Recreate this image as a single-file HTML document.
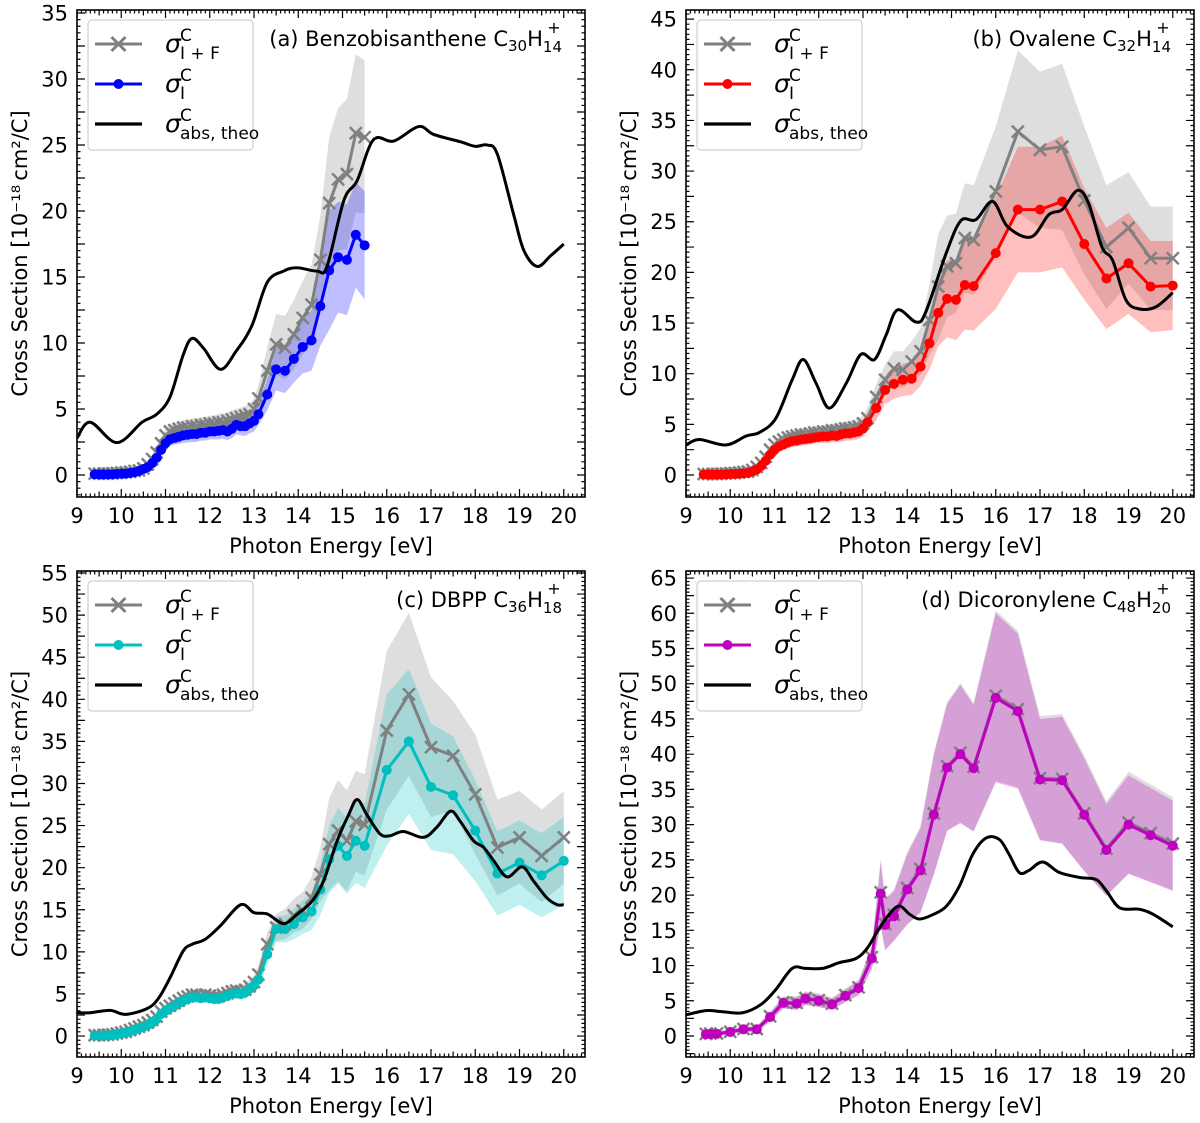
<!DOCTYPE html>
<html><head><meta charset="utf-8"><style>
html,body{margin:0;padding:0;background:#fff;}
svg{display:block;font-family:"DejaVu Sans","Liberation Sans",sans-serif;}
</style></head><body>
<svg id="fig" width="1200" height="1123" viewBox="0 0 1200 1123" xmlns="http://www.w3.org/2000/svg"></svg>
<script>
// ---------- shared data ----------
const DENSE_X = [9.4,9.5,9.6,9.7,9.8,9.9,10.0,10.1,10.2,10.3,10.4,10.5,10.6,10.7,10.8,10.9,11.0,11.1,11.2,11.3,11.4,11.5,11.6,11.7,11.8,11.9,12.0,12.1,12.2,12.3,12.4,12.5,12.6,12.7,12.8,12.9,13.0];
const DENSE_ERR = [0.1,0.1,0.1,0.1,0.1,0.1,0.1,0.1,0.15,0.15,0.2,0.2,0.25,0.3,0.35,0.4,0.45,0.5,0.5,0.55,0.55,0.6,0.6,0.6,0.6,0.6,0.6,0.6,0.65,0.65,0.65,0.7,0.7,0.7,0.75,0.75,0.8];
const SPARSE_X_A = [13.1,13.3,13.5,13.7,13.9,14.1,14.3,14.5,14.7,14.9,15.1,15.3,15.5];
const SPARSE_X_BC = [13.1,13.3,13.5,13.7,13.9,14.1,14.3,14.5,14.7,14.9,15.1,15.3,15.5,16,16.5,17,17.5,18,18.5,19,19.5,20];
const X_TICKS = [9,10,11,12,13,14,15,16,17,18,19,20];

// panel a
const aIDense = [0.05,0.05,0.05,0.05,0.05,0.08,0.1,0.1,0.15,0.2,0.3,0.45,0.6,0.9,1.3,1.9,2.4,2.7,2.8,2.9,3.0,3.05,3.1,3.1,3.2,3.2,3.3,3.3,3.35,3.4,3.3,3.5,3.8,3.7,3.7,3.9,4.1];
const aISparse = [4.6,6.1,8.0,7.9,8.8,9.7,10.2,12.8,15.5,16.5,16.3,18.2,17.4];
const aIErrSparse = [0.8,1.2,1.6,1.7,1.8,2.0,2.3,3.0,4.5,4.2,4.2,4.0,4.1];
const aFDense = [0.1,0.1,0.1,0.1,0.12,0.15,0.18,0.2,0.25,0.3,0.35,0.5,0.8,1.2,1.7,2.4,3.0,3.3,3.4,3.5,3.6,3.6,3.7,3.7,3.8,3.8,3.9,3.9,4.0,4.0,4.1,4.2,4.3,4.4,4.5,4.6,5.0];
const aFSparse = [5.8,7.9,9.9,9.65,10.65,11.9,12.9,16.3,20.6,22.4,22.8,25.9,25.6];
const aFErrSparse = [1.0,1.8,2.3,2.4,2.6,2.8,3.0,3.4,5.0,5.4,5.7,6.0,5.8];
const aTheoX = [9,9.3,9.9,10.47,10.8,11.1,11.4,11.6,11.86,12.24,12.6,12.95,13.3,13.67,13.97,14.42,14.65,15.03,15.33,15.7,16.16,16.72,17.06,17.66,18.0,18.27,18.5,18.87,19.1,19.4,19.7,20.0];
const aTheoY = [2.8,4.0,2.45,4.0,4.6,5.9,9.1,10.35,9.6,8.0,9.4,11.3,14.6,15.45,15.7,15.45,15.8,20.8,22.3,25.4,25.3,26.4,25.8,25.25,24.9,25.0,24.3,19.7,17.0,15.8,16.6,17.5];
const aYTicks = [0,5,10,15,20,25,30,35];

// panel b
const bIDense = [0.05,0.05,0.05,0.05,0.05,0.08,0.1,0.1,0.12,0.15,0.2,0.35,0.55,0.9,1.4,2.0,2.5,2.8,3.0,3.2,3.35,3.4,3.5,3.55,3.6,3.7,3.75,3.8,3.8,3.9,3.85,4.0,4.1,4.1,4.2,4.3,4.6];
const bISparse = [5.2,6.6,8.4,9.0,9.4,9.5,10.7,13.0,16.0,17.4,17.3,18.75,18.65,21.9,26.2,26.2,27.0,22.8,19.4,20.9,18.6,18.7];
const bIErrSparse = [0.9,1.2,1.4,1.5,1.6,1.6,1.9,2.6,3.3,3.8,4.0,4.4,4.4,5.5,6.2,6.2,6.5,5.5,5.0,5.0,4.5,4.4];
const bFDense = [0.1,0.1,0.1,0.1,0.12,0.15,0.18,0.2,0.25,0.3,0.35,0.5,0.8,1.2,1.8,2.5,3.0,3.3,3.5,3.7,3.8,3.9,4.0,4.0,4.1,4.2,4.2,4.3,4.3,4.4,4.4,4.5,4.6,4.6,4.7,4.8,5.1];
const bFSparse = [5.6,7.7,9.4,10.5,10.4,11.2,12.2,15.3,18.6,20.6,20.9,23.4,23.2,28.0,33.9,32.1,32.4,27.1,22.5,24.4,21.4,21.4];
const bFErrSparse = [1.0,1.3,1.5,1.7,1.8,2.0,2.3,3.5,5.2,5.0,4.9,5.4,5.4,6.4,8.0,7.7,8.2,7.3,6.1,5.5,5.1,5.1];
const bTheoX = [9,9.3,9.9,10.36,10.66,11.03,11.4,11.65,11.94,12.24,12.62,12.95,13.26,13.52,13.78,14.2,14.42,14.88,15.21,15.55,15.93,16.27,16.8,17.2,17.5,17.85,18.1,18.4,18.64,18.94,19.24,19.62,20.0];
const bTheoY = [2.96,3.5,2.96,3.85,4.2,5.6,9.4,11.4,9.05,6.6,9.05,11.9,11.4,13.8,16.3,15.1,16.1,21.9,25.1,25.2,27.0,24.5,23.5,25.7,26.2,28.1,26.8,22.5,21.2,17.3,16.4,16.6,18.0];
const bYTicks = [0,5,10,15,20,25,30,35,40,45];

// panel c
const cIDense = [0.05,0.05,0.05,0.1,0.1,0.2,0.3,0.4,0.55,0.7,0.9,1.1,1.3,1.6,2.0,2.6,3.0,3.3,3.6,3.9,4.2,4.4,4.6,4.6,4.5,4.6,4.5,4.4,4.4,4.6,4.8,5.0,5.1,5.0,5.2,5.6,6.0];
const cISparse = [6.7,9.7,12.7,12.7,13.3,14.1,14.8,17.4,21.0,22.6,21.4,23.2,22.6,31.6,35.0,29.6,28.6,24.4,19.3,20.6,19.1,20.8];
const cIErrSparse = [1.0,1.3,1.5,1.6,1.8,2.0,2.2,3.0,4.0,4.5,4.5,5.0,5.0,9.0,8.6,7.5,7.0,6.0,5.0,5.0,5.0,5.2];
const cFDense = [0.1,0.1,0.1,0.15,0.2,0.3,0.4,0.5,0.7,0.9,1.1,1.3,1.6,1.9,2.3,2.9,3.3,3.6,3.9,4.2,4.5,4.7,4.9,4.9,4.8,4.9,4.8,4.7,4.7,4.9,5.1,5.3,5.4,5.3,5.5,5.9,6.4];
const cFSparse = [7.3,10.9,12.9,13.3,14.3,14.9,16.4,19.2,22.8,24.4,23.2,25.5,25.1,36.3,40.6,34.3,33.3,28.7,22.4,23.6,21.4,23.6];
const cFErrSparse = [1.1,1.4,1.6,1.8,2.0,2.2,2.5,3.2,5.5,6.0,6.0,6.0,6.0,9.4,9.7,8.3,6.5,7.1,5.7,5.5,5.5,5.5];
const cTheoX = [9,9.3,9.75,10.1,10.6,10.85,11.1,11.4,11.6,11.9,12.24,12.7,13.0,13.3,13.67,13.97,14.31,14.57,14.88,15.14,15.33,15.55,15.85,16.08,16.38,16.83,17.13,17.44,17.66,17.96,18.19,18.42,18.72,19.06,19.32,19.62,19.85,20.0];
const cTheoY = [2.77,2.77,3.05,2.57,3.3,4.55,6.9,10.1,10.9,11.5,13.1,15.6,14.65,14.5,13.35,14.45,16.0,18.4,23.2,26.3,28.1,26.3,24.0,23.8,24.3,23.6,24.8,26.7,25.5,23.2,22.4,20.8,18.9,20.1,18.4,16.4,15.6,15.6];
const cYTicks = [0,5,10,15,20,25,30,35,40,45,50,55];

// panel d
const dX = [9.45,9.55,9.7,10,10.3,10.6,10.9,11.2,11.5,11.7,12,12.3,12.6,12.9,13.2,13.4,13.5,13.7,14,14.3,14.6,14.9,15.2,15.5,16,16.5,17,17.5,18,18.5,19,19.5,20];
const dI = [0.24,0.3,0.3,0.57,0.95,0.95,2.7,4.7,4.6,5.3,5.0,4.5,5.7,6.8,11.0,20.2,15.75,17.0,20.8,23.5,31.4,38.1,40.0,38.0,48.0,46.1,36.4,36.3,31.4,26.4,30.0,28.5,27.0];
const dIErr = [0.3,0.3,0.3,0.3,0.35,0.4,0.6,0.8,0.9,0.9,0.9,0.8,0.9,1.0,1.5,4.6,3.6,3.5,5.0,6.0,8.5,9.0,9.8,9.0,12.0,11.0,8.6,9.0,8.0,6.5,7.0,6.7,6.4];
const dF = [0.3,0.35,0.35,0.6,1.0,1.0,2.8,4.8,4.7,5.4,5.1,4.6,5.8,6.9,11.2,20.4,15.9,17.2,21.0,23.7,31.6,38.3,40.2,38.2,48.3,46.4,36.6,36.5,31.6,26.6,30.3,28.8,27.3];
const dFErr = [0.35,0.35,0.35,0.35,0.4,0.45,0.65,0.85,0.95,0.95,0.95,0.85,0.95,1.1,1.6,4.7,3.7,3.6,5.1,6.1,8.6,9.1,9.9,9.1,12.1,11.1,8.8,9.2,8.2,6.7,7.2,6.9,6.6];
const dTheoX = [9,9.45,9.83,10.28,10.7,11.03,11.4,11.7,12.09,12.46,12.84,13.1,13.4,13.78,14.05,14.27,14.57,14.88,15.18,15.48,15.78,16.08,16.3,16.53,16.75,17.06,17.44,17.9,18.27,18.5,18.8,19.24,19.55,20.0];
const dTheoY = [3.0,3.6,3.45,3.3,4.5,6.6,9.6,9.6,9.6,10.4,11.0,12.5,15.6,18.4,17.3,16.6,17.2,18.4,21.3,25.8,28.1,27.9,25.8,23.2,23.5,24.7,23.2,22.5,22.2,20.6,18.2,18.0,17.3,15.5];
const dYTicks = [0,5,10,15,20,25,30,35,40,45,50,55,60,65];

// ---------- drawing ----------
const NS = 'http://www.w3.org/2000/svg';
const fig = document.getElementById('fig');
function mk(tag, attrs, parent){
  const e = document.createElementNS(NS, tag);
  for (const k in attrs) e.setAttribute(k, attrs[k]);
  (parent || fig).appendChild(e);
  return e;
}
function smoothPath(pts){
  let d = 'M' + pts[0][0].toFixed(2) + ',' + pts[0][1].toFixed(2);
  for (let i = 0; i < pts.length - 1; i++){
    const p0 = pts[Math.max(0,i-1)], p1 = pts[i], p2 = pts[i+1], p3 = pts[Math.min(pts.length-1,i+2)];
    const c1 = [p1[0] + (p2[0]-p0[0])/6, p1[1] + (p2[1]-p0[1])/6];
    const c2 = [p2[0] - (p3[0]-p1[0])/6, p2[1] - (p3[1]-p1[1])/6];
    d += ' C' + c1[0].toFixed(2)+','+c1[1].toFixed(2)+' '+c2[0].toFixed(2)+','+c2[1].toFixed(2)+' '+p2[0].toFixed(2)+','+p2[1].toFixed(2);
  }
  return d;
}

function drawPanel(p){
  const X0 = 9, X1 = 20.48;
  const sx = x => p.L + (x - X0) / (X1 - X0) * (p.R - p.L);
  const sy = y => p.B - (y - p.ymin) / (p.ymax - p.ymin) * (p.B - p.T);
  const g = mk('g', {});
  
  
  const clipId = 'clip-' + p.id;
  const cp = mk('clipPath', {id: clipId}, g);
  mk('rect', {x: p.L, y: p.T, width: p.R - p.L, height: p.B - p.T}, cp);
  const plot = mk('g', {'clip-path': 'url(#' + clipId + ')'}, g);
  
  

  function band(xs, ys, errs, fill, name){
    let pts = [];
    for (let i = 0; i < xs.length; i++) pts.push(sx(xs[i]).toFixed(2) + ',' + sy(ys[i] + errs[i]).toFixed(2));
    for (let i = xs.length - 1; i >= 0; i--) pts.push(sx(xs[i]).toFixed(2) + ',' + sy(ys[i] - errs[i]).toFixed(2));
    const b = mk('polygon', {points: pts.join(' '), fill: fill, stroke: 'none'}, plot);
    
    
  }
  band(p.fx, p.fy, p.fe, 'rgba(200,200,200,0.6)', 'uncertainty-band-ionization-fragmentation');
  band(p.ix, p.iy, p.ie, p.bandColor, 'uncertainty-band-ionization');

  const fl = mk('polyline', {points: p.fx.map((x,i) => sx(x).toFixed(2)+','+sy(p.fy[i]).toFixed(2)).join(' '), fill: 'none', stroke: '#808080', 'stroke-width': 3, 'stroke-linejoin': 'round'}, plot);
  
  
  for (let i = 0; i < p.fx.length; i++){
    const cx = sx(p.fx[i]), cy = sy(p.fy[i]), s = 6;
    const m = mk('path', {d: `M${cx-s},${cy-s}L${cx+s},${cy+s}M${cx-s},${cy+s}L${cx+s},${cy-s}`, stroke: '#808080', 'stroke-width': 2.5, fill: 'none'}, plot);
    
    
  }
  const il = mk('polyline', {points: p.ix.map((x,i) => sx(x).toFixed(2)+','+sy(p.iy[i]).toFixed(2)).join(' '), fill: 'none', stroke: p.color, 'stroke-width': 3, 'stroke-linejoin': 'round'}, plot);
  
  
  for (let i = 0; i < p.ix.length; i++){
    const c = mk('circle', {cx: sx(p.ix[i]), cy: sy(p.iy[i]), r: 5, fill: p.color}, plot);
    
    
  }
  const tp = mk('path', {d: smoothPath(p.tx.map((x,i) => [sx(x), sy(p.ty[i])])), fill: 'none', stroke: '#000', 'stroke-width': 3, 'stroke-linejoin': 'round'}, plot);
  
  

  let td = '';
  for (let v = 9; v <= 20.48 + 1e-9; v += 0.1){
    const vv = Math.round(v * 10) / 10;
    const x = sx(vv), major = Math.abs(vv * 2 - Math.round(vv * 2)) < 1e-6;
    const len = Math.abs(vv - Math.round(vv)) < 1e-6 ? 8 : (major ? 5.5 : 3.5);
    td += `M${x},${p.B}v${-len}M${x},${p.T}v${len}`;
  }
  for (let v = Math.ceil(p.ymin * 2) / 2; v <= p.ymax + 1e-9; v += 0.5){
    const vv = Math.round(v * 2) / 2;
    const y = sy(vv);
    const len = Math.abs(vv / 2.5 - Math.round(vv / 2.5)) < 1e-6 ? 8 : 3.5;
    td += `M${p.L},${y}h${len}M${p.R},${y}h${-len}`;
  }
  const ticks = mk('path', {d: td, stroke: '#000', 'stroke-width': 1.2, fill: 'none'}, g);
  
  

  const frame = mk('rect', {x: p.L, y: p.T, width: p.R - p.L, height: p.B - p.T, fill: 'none', stroke: '#000', 'stroke-width': 1.6}, g);
  
  

  for (const t of X_TICKS){
    const tl = mk('text', {x: sx(t), y: p.B + 26, 'text-anchor': 'middle', 'font-size': 21, fill: '#000'}, g);
    tl.textContent = String(t);
    
    
  }
  for (const t of p.yticks){
    const tl = mk('text', {x: p.L - 9, y: sy(t) + 7.5, 'text-anchor': 'end', 'font-size': 21, fill: '#000'}, g);
    tl.textContent = String(t);
    
    
  }
  const xt = mk('text', {x: (p.L + p.R) / 2 + 77 - 77 + 0, y: p.B + 56, 'text-anchor': 'middle', 'font-size': 21, fill: '#000'}, g);
  xt.setAttribute('x', p.L + 254);
  xt.textContent = 'Photon Energy [eV]';
  
  
  const ycx = p.L - 50, ycy = (p.T + p.B) / 2;
  const yt = mk('text', {x: ycx, y: ycy, 'text-anchor': 'middle', 'font-size': 21, fill: '#000', transform: `rotate(-90 ${ycx} ${ycy})`}, g);
  yt.textContent = 'Cross Section [10\u207B\u00B9\u2078\u2009cm\u00B2/C]';
  
  

  const tt = mk('text', {x: p.R - 23, y: p.T + 36, 'text-anchor': 'end', 'font-size': 21, fill: '#000'}, g);
  
  
  tt.appendChild(document.createTextNode(p.title + ' C'));
  const s1 = mk('tspan', {'font-size': 15, dy: 5}, tt); s1.textContent = p.nC;
  const s2 = mk('tspan', {'font-size': 21, dy: -5}, tt); s2.textContent = 'H';
  const s3 = mk('tspan', {'font-size': 15, dy: 6}, tt); s3.textContent = p.nH;
  const pl = mk('text', {x: p.R - 31, y: p.T + 23, 'text-anchor': 'middle', 'font-size': 16, fill: '#000'}, g);
  pl.textContent = '+';
  
  

  const lg = mk('g', {}, g);
  
  
  const lb = mk('rect', {x: p.L + 11, y: p.T + 10, width: 165, height: 130, rx: 4, fill: 'rgba(255,255,255,0.85)', stroke: '#d0d0d0', 'stroke-width': 1.2}, lg);
  
  
  const lx0 = p.L + 18, lx1 = p.L + 65, tx = p.L + 88;
  const rows = [p.T + 34, p.T + 74, p.T + 114];
  const e1 = mk('path', {d: `M${lx0},${rows[0]}H${lx1}M${(lx0+lx1)/2-7},${rows[0]-7}l14,14M${(lx0+lx1)/2-7},${rows[0]+7}l14,-14`, stroke: '#808080', 'stroke-width': 3, fill: 'none'}, lg);
  
  
  const e2 = mk('path', {d: `M${lx0},${rows[1]}H${lx1}`, stroke: p.color, 'stroke-width': 3, fill: 'none'}, lg);
  
  
  const e2c = mk('circle', {cx: (lx0+lx1)/2, cy: rows[1], r: 5, fill: p.color}, lg);
  
  
  const e3 = mk('path', {d: `M${lx0},${rows[2]}H${lx1}`, stroke: '#000', 'stroke-width': 3.2, fill: 'none'}, lg);
  
  
  const labels = ['I + F', 'I', 'abs, theo'];
  for (let r = 0; r < 3; r++){
    const sg = mk('text', {x: tx, y: rows[r] + 8, 'font-size': 25, 'font-style': 'italic', fill: '#000'}, lg);
    sg.textContent = '\u03C3';
    
    
    const sc = mk('text', {x: tx + 15, y: rows[r] - 3, 'font-size': 17, fill: '#000'}, lg);
    sc.textContent = 'C';
    
    
    const sb = mk('text', {x: tx + 15, y: rows[r] + 15, 'font-size': 17, fill: '#000'}, lg);
    sb.textContent = labels[r];
    
    
  }
}

const panels = [
  {id:'a', L:77, R:585, T:10, B:497, ymin:-1.667, ymax:35.23, yticks:aYTicks, color:'#0000ff', bandColor:'rgba(0,0,255,0.25)', title:'(a) Benzobisanthene', nC:'30', nH:'14',
   ix:DENSE_X.concat(SPARSE_X_A), iy:aIDense.concat(aISparse), ie:DENSE_ERR.concat(aIErrSparse),
   fx:DENSE_X.concat(SPARSE_X_A), fy:aFDense.concat(aFSparse), fe:DENSE_ERR.concat(aFErrSparse), tx:aTheoX, ty:aTheoY},
  {id:'b', L:686, R:1194, T:10, B:497, ymin:-2.17, ymax:45.9, yticks:bYTicks, color:'#ff0000', bandColor:'rgba(255,0,0,0.25)', title:'(b) Ovalene', nC:'32', nH:'14',
   ix:DENSE_X.concat(SPARSE_X_BC), iy:bIDense.concat(bISparse), ie:DENSE_ERR.concat(bIErrSparse),
   fx:DENSE_X.concat(SPARSE_X_BC), fy:bFDense.concat(bFSparse), fe:DENSE_ERR.concat(bFErrSparse), tx:bTheoX, ty:bTheoY},
  {id:'c', L:77, R:585, T:571, B:1057, ymin:-2.49, ymax:55.24, yticks:cYTicks, color:'#00bfbf', bandColor:'rgba(0,191,191,0.25)', title:'(c) DBPP', nC:'36', nH:'18',
   ix:DENSE_X.concat(SPARSE_X_BC), iy:cIDense.concat(cISparse), ie:DENSE_ERR.concat(cIErrSparse),
   fx:DENSE_X.concat(SPARSE_X_BC), fy:cFDense.concat(cFSparse), fe:DENSE_ERR.concat(cFErrSparse), tx:cTheoX, ty:cTheoY},
  {id:'d', L:686, R:1194, T:571, B:1057, ymin:-2.98, ymax:66.0, yticks:dYTicks, color:'#bf00bf', bandColor:'rgba(191,0,191,0.28)', title:'(d) Dicoronylene', nC:'48', nH:'20',
   ix:dX, iy:dI, ie:dIErr, fx:dX, fy:dF, fe:dFErr, tx:dTheoX, ty:dTheoY}
];
panels.forEach(drawPanel);
</script>
</body></html>
